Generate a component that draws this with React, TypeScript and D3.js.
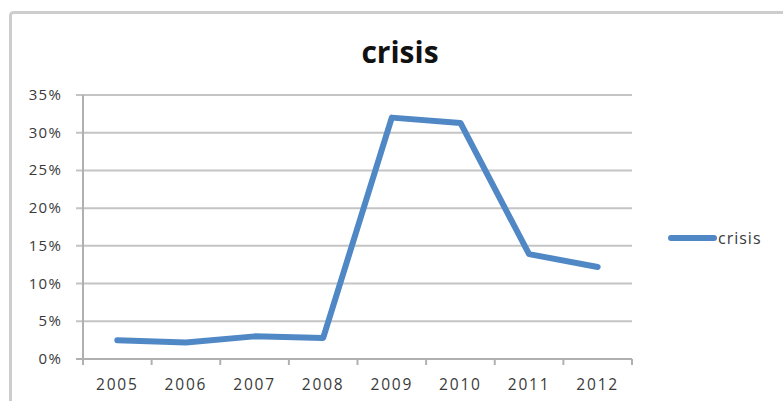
import React from "react";
import * as d3 from "d3";

const categories = ["2005", "2006", "2007", "2008", "2009", "2010", "2011", "2012"];
const crisisValues = [0.025, 0.022, 0.03, 0.028, 0.32, 0.313, 0.139, 0.122];
const yTicks = [0, 0.05, 0.1, 0.15, 0.2, 0.25, 0.3, 0.35];
const seriesName = "crisis";
const titleText = "crisis";

export default function App() {
  const W = 783, H = 401;
  const left = 83, right = 632, top = 95, bottom = 359;
  const x = d3.scaleBand<string>().domain(categories).range([left, right]);
  const y = d3.scaleLinear().domain([0, 0.35]).range([bottom, top]);
  const line = d3
    .line<number>()
    .x((_, i) => (x(categories[i]) as number) + x.bandwidth() / 2)
    .y((d) => y(d));
  const fmt = d3.format(".0%");
  const font = "'Open Sans', sans-serif";
  const blue = "#5088C6";
  const grid = "#c4c4c4";
  const txt = "#3a3a3a";
  const xTickPos = [...categories.map((c) => x(c) as number), right];
  return (
    <svg
      width={W}
      height={H}
      style={{ position: "absolute", left: 0, top: 0 }}
      viewBox={`0 0 ${W} ${H}`}
    >
      <rect x={0} y={0} width={W} height={H} fill="#fff" />
      <rect x={10.5} y={12.5} width={W + 20} height={H + 20} rx={3} fill="#fff" stroke="#cdcdcd" strokeWidth={3} />
      <text x={400} y={63} textAnchor="middle" fontFamily={font} fontWeight={700} fontSize={30} fill="#111">
        {titleText}
      </text>
      {yTicks.map((t) => (
        <g key={t}>
          <line x1={left - 7} x2={right} y1={y(t)} y2={y(t)} stroke={grid} strokeWidth={2} />
          <text
            x={62}
            y={y(t) + 5}
            textAnchor="end"
            fontFamily={font}
            fontSize={15}
            letterSpacing={1.2}
            fill={txt}
          >
            {fmt(t)}
          </text>
        </g>
      ))}
      <line x1={left} x2={left} y1={top} y2={bottom} stroke="#b0b0b0" strokeWidth={2} />
      <line x1={left - 7} x2={right} y1={bottom} y2={bottom} stroke="#b0b0b0" strokeWidth={2} />
      {xTickPos.map((p, i) => (
        <line key={i} x1={p} x2={p} y1={bottom} y2={bottom + 6} stroke="#b0b0b0" strokeWidth={2} />
      ))}
      {categories.map((c) => (
        <text
          key={c}
          x={(x(c) as number) + x.bandwidth() / 2}
          y={390}
          textAnchor="middle"
          fontFamily={font}
          fontSize={15.5}
          letterSpacing={1.8}
          fill={txt}
        >
          {c}
        </text>
      ))}
      <path
        d={line(crisisValues) || ""}
        fill="none"
        stroke={blue}
        strokeWidth={6}
        strokeLinejoin="round"
        strokeLinecap="round"
      />
      <line x1={671} x2={714} y1={238} y2={238} stroke={blue} strokeWidth={6} strokeLinecap="round" />
      <text x={718} y={244} fontFamily={font} fontSize={16} letterSpacing={1} fill={txt}>
        {seriesName}
      </text>
    </svg>
  );
}
